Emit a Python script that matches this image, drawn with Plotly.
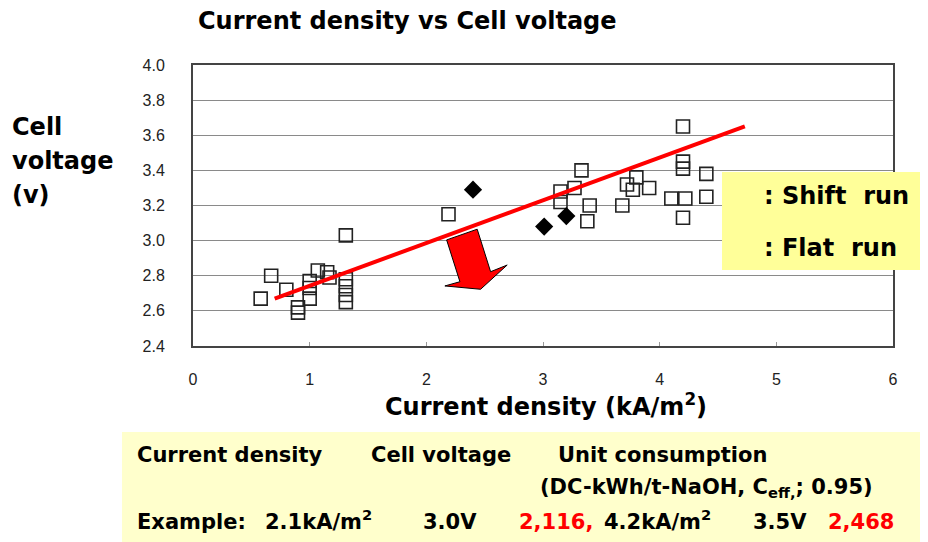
import plotly.graph_objects as go

# ---------------- data ----------------
flat_x = [0.58, 0.67, 0.80, 0.90, 0.90, 1.00, 1.00, 1.00, 1.07, 1.15, 1.17,
          1.31, 1.31, 1.31, 1.31, 1.31, 2.19,
          3.15, 3.15, 3.33, 3.27, 3.40, 3.38, 3.72, 3.68, 3.80, 3.91, 3.77,
          4.20, 4.20, 4.20, 4.10, 4.22, 4.20, 4.40, 4.40]
flat_v = [2.67, 2.80, 2.72, 2.59, 2.62, 2.67, 2.73, 2.77, 2.83, 2.82, 2.79,
          2.78, 2.74, 2.69, 2.65, 3.03, 3.15,
          3.28, 3.22, 3.40, 3.30, 3.20, 3.11, 3.32, 3.20, 3.36, 3.30, 3.29,
          3.65, 3.45, 3.41, 3.24, 3.24, 3.13, 3.38, 3.25]

shift_x = [2.40, 3.01, 3.20]
shift_v = [3.29, 3.08, 3.14]

trend_x = [0.70, 4.73]
trend_v = [2.67, 3.65]

x_ticks = [0, 1, 2, 3, 4, 5, 6]
y_ticks = [2.4, 2.6, 2.8, 3.0, 3.2, 3.4, 3.6, 3.8, 4.0]

title_text = "Current density vs Cell voltage"
x_title = "Current density (kA/m<sup>2</sup>)"
y_title_lines = ["Cell", "voltage", "(v)"]
legend_labels = [": Shift  run", ": Flat  run"]

# ---------------- figure ----------------
OFF = 8                       # page body margin
W, H = 928, 542
L, T = 193 - OFF, 65 - OFF
PW, PH = 700, 281
R, B = W - L - PW, H - T - PH
FONT = "DejaVu Sans"

def px_x(p):
    return (p - OFF - L) / PW

def px_y(p):
    return (T + PH - (p - OFF)) / PH

fig = go.Figure()

fig.add_trace(go.Scatter(
    x=flat_x, y=flat_v, mode="markers", name="Flat run",
    marker=dict(symbol="square-open", size=13, color="#222222",
                line=dict(width=1.6, color="#222222")),
    showlegend=False))

fig.add_trace(go.Scatter(
    x=shift_x, y=shift_v, mode="markers", name="Shift run",
    marker=dict(symbol="diamond", size=14, color="#000000"),
    showlegend=False))

fig.add_trace(go.Scatter(
    x=trend_x, y=trend_v, mode="lines", name="trend",
    line=dict(color="#ff0000", width=4), showlegend=False))

# red block arrow (decorative)
arrow = [(2.174, 3.004), (2.436, 3.065), (2.551, 2.823), (2.693, 2.861),
         (2.465, 2.723), (2.159, 2.742), (2.288, 2.766)]
path = "M " + " L ".join(f"{a},{b}" for a, b in arrow) + " Z"
fig.add_shape(type="path", path=path, xref="x", yref="y",
              fillcolor="#ff0000", line=dict(color="#000000", width=1),
              layer="above")

# legend box
fig.add_shape(type="rect", xref="paper", yref="paper",
              x0=px_x(722), x1=px_x(960), y0=px_y(270), y1=px_y(172),
              fillcolor="#ffff99", line=dict(width=0), layer="above")
# bottom table box
fig.add_shape(type="rect", xref="paper", yref="paper",
              x0=px_x(122), x1=px_x(960), y0=px_y(560), y1=px_y(432),
              fillcolor="#ffffcc", line=dict(width=0), layer="above")

def ann(text, x, y, size, color="#000000", xanchor="left", yanchor="middle"):
    fig.add_annotation(text=f"<b>{text}</b>", xref="paper", yref="paper",
                       x=px_x(x), y=px_y(y), xanchor=xanchor, yanchor=yanchor,
                       showarrow=False,
                       font=dict(family=FONT, size=size, color=color))

ann(title_text, 407, 21, 24, xanchor="center")
for i, t in enumerate(y_title_lines):
    ann(t, 10, 127 + i * 34, 24)
ann(x_title, 546, 423, 24, xanchor="center", yanchor="bottom")
ann(legend_labels[0], 762, 196, 24)
ann(legend_labels[1], 762, 248, 24)

ann("Current density", 135, 455, 21)
ann("Cell voltage", 369, 455, 21)
ann("Unit consumption", 556, 455, 21)
ann("(DC-kWh/t-NaOH, C<sub>eff,</sub>; 0.95)", 538, 488, 21)
row3 = 536
ann("Example:", 135, row3, 21, yanchor="bottom")
ann("2.1kA/m<sup>2</sup>", 263, row3, 21, yanchor="bottom")
ann("3.0V", 421, row3, 21, yanchor="bottom")
ann("2,116,", 517, row3, 21, color="#ff0000", yanchor="bottom")
ann("4.2kA/m<sup>2</sup>", 602, row3, 21, yanchor="bottom")
ann("3.5V", 751, row3, 21, yanchor="bottom")
ann("2,468", 826, row3, 21, color="#ff0000", yanchor="bottom")

fig.update_layout(
    width=W, height=H,
    margin=dict(l=L, r=R, t=T, b=B, autoexpand=False),
    paper_bgcolor="#ffffff", plot_bgcolor="#ffffff",
    showlegend=False,
)
tick_font = dict(family="Liberation Sans Narrow, Liberation Sans", size=16, color="#222222")
fig.update_xaxes(range=[0, 6], tickvals=x_ticks, ticktext=[str(v) for v in x_ticks],
                 showgrid=False, zeroline=False,
                 showline=True, mirror=True, linecolor="#444444", linewidth=2,
                 ticks="inside", ticklen=4, tickcolor="#999999",
                 ticklabelstandoff=18, tickfont=tick_font)
fig.update_yaxes(range=[2.4, 4.0], tickvals=y_ticks, ticktext=[f"{v:.1f}" for v in y_ticks],
                 showgrid=True, gridcolor="#8a8a8a", gridwidth=1, zeroline=False,
                 showline=True, mirror=True, linecolor="#444444", linewidth=2,
                 ticks="", ticklabelstandoff=23, tickfont=tick_font)

fig.write_html("out.html")
